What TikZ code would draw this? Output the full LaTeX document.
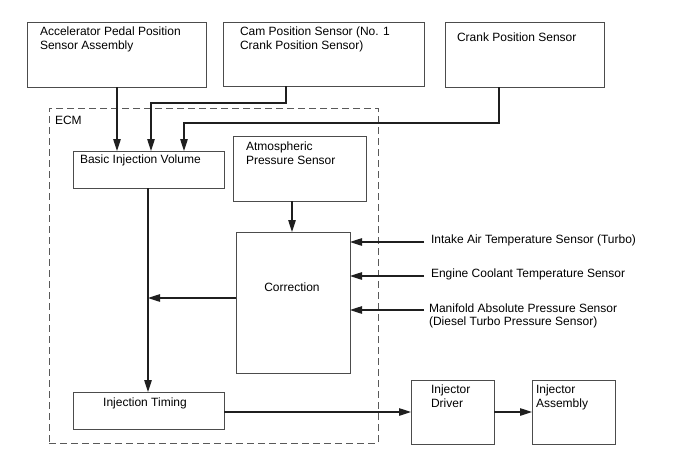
\documentclass[tikz,border=0pt]{standalone}
\usepackage{fontspec}
\setmainfont{Liberation Sans}
\usetikzlibrary{arrows.meta}
\begin{document}
\begin{tikzpicture}[x=1pt,y=-1pt,
  blk/.style={draw=black!70, line width=0.9pt, inner sep=0pt, outer sep=0pt},
  txt/.style={anchor=base west, inner sep=0pt, outer sep=0pt, font=\fontsize{12}{14}\selectfont},
  ctxt/.style={anchor=base, inner sep=0pt, outer sep=0pt, font=\fontsize{12}{14}\selectfont},
  conn/.style={draw=black!88, line width=1.1pt, -{Triangle[length=12pt,width=7.5pt]}},
  ecmbox/.style={draw=black!65, line width=0.9pt, dash pattern=on 7pt off 4pt}
]
\useasboundingbox (0,0) rectangle (688,463);
\newcommand{\blkbox}[5]{\node[blk, minimum width={#4-#2}, minimum height={#5-#3}] (#1) at ({(#2+#4)/2},{(#3+#5)/2}) {};}

% ECM dashed region
\node[ecmbox, inner sep=0pt, minimum width=329pt, minimum height=335pt] (ecm) at (213.5,275.5) {};
\node[txt] (ecmt) at (55,124) {ECM};

% Sensor boxes
\blkbox{acc}{27}{22}{206}{87}
\node[txt] (acct1) at (40,35) {Accelerator Pedal Position};
\node[txt] (acct2) at (40,49) {Sensor Assembly};

\blkbox{cam}{223}{22}{424}{86}
\node[txt] (camt1) at (240,35) {Cam Position Sensor (No. 1};
\node[txt] (camt2) at (240,49) {Crank Position Sensor)};

\blkbox{crk}{445}{22}{604}{87}
\node[txt] (crkt) at (457,41.5) {Crank Position Sensor};

% ECM internal blocks
\blkbox{biv}{73}{151}{224}{188}
\node[txt] (bivt) at (80,163) {Basic Injection Volume};

\blkbox{atm}{233}{136}{366}{201}
\node[txt] (atmt1) at (246,150) {Atmospheric};
\node[txt] (atmt2) at (246,164) {Pressure Sensor};

\blkbox{cor}{236}{232}{350}{373}
\node[ctxt] (cort) at (292,291) {Correction};

\blkbox{inj}{73}{392}{224}{429}
\node[ctxt] (injt) at (145,406) {Injection Timing};

% output blocks
\blkbox{drv}{411}{380}{494}{444}
\node[txt] (drvt1) at (431,393) {Injector};
\node[txt] (drvt2) at (431,407) {Driver};

\blkbox{asm}{532}{380}{615}{444}
\node[txt] (asmt1) at (536,393) {Injector};
\node[txt] (asmt2) at (536,407) {Assembly};

% right side sensor labels
\node[txt] (iat) at (431,243) {Intake Air Temperature Sensor (Turbo)};
\node[txt] (ect) at (431,277) {Engine Coolant Temperature Sensor};
\node[txt] (map1) at (429,312) {Manifold Absolute Pressure Sensor};
\node[txt] (map2) at (429,325) {(Diesel Turbo Pressure Sensor)};

% connectors
\draw[conn] (acc.south -| 117,0) -- (biv.north -| 117,0);
\draw[conn] (cam.south -| 286,0) -- (286,103) -- (151,103) -- (biv.north -| 151,0);
\draw[conn] (crk.south -| 499,0) -- (499,123) -- (184,123) -- (biv.north -| 184,0);
\draw[conn] (biv.south -| 148,0) -- (inj.north -| 148,0);
\draw[conn] (atm.south -| 292,0) -- (cor.north -| 292,0);
\coordinate (mid) at (148,298);
\draw[conn] (cor.west |- mid) -- (mid);
\coordinate (iae) at (424,242);
\coordinate (ece) at (424,276);
\coordinate (mae) at (424,310);
\draw[conn] (iae) -- (cor.east |- iae);
\draw[conn] (ece) -- (cor.east |- ece);
\draw[conn] (mae) -- (cor.east |- mae);
\draw[conn] (inj.east |- 0,412) -- (drv.west |- 0,412);
\draw[conn] (drv.east |- 0,412) -- (asm.west |- 0,412);
\end{tikzpicture}
\end{document}
